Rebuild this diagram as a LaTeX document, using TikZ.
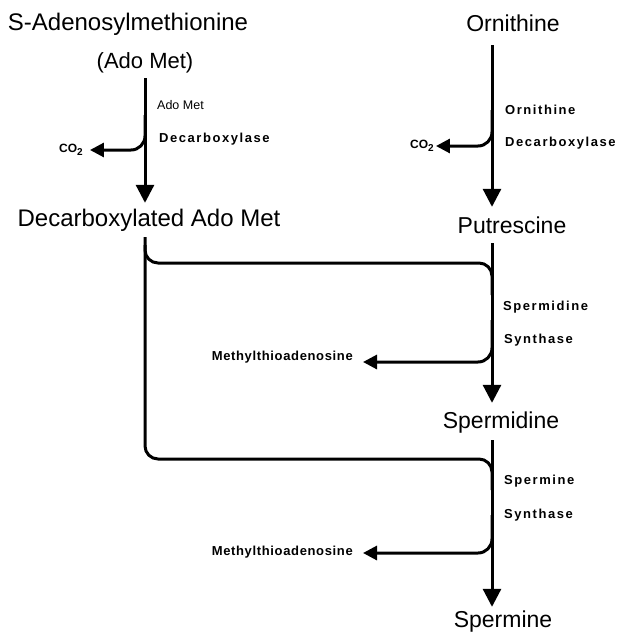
\documentclass[tikz,border=0pt]{standalone}
\usepackage{fontspec}
\setmainfont{Liberation Sans}
\newfontfamily\lblfont[LetterSpace=12]{Liberation Sans}
\newfontfamily\mtafont[LetterSpace=5]{Liberation Sans}
\usetikzlibrary{arrows.meta}
\begin{document}
\begin{tikzpicture}[x=1pt,y=-1pt,
  big/.style={font=\fontsize{23}{23}\selectfont, inner sep=0pt, text height=16pt, text depth=5pt},
  lbl/.style={font=\lblfont\bfseries\fontsize{13}{13}\selectfont, inner sep=0pt, anchor=west},
  prod/.style={font=\mtafont\bfseries\fontsize{13}{13}\selectfont, inner sep=0pt},
  flow/.style={line width=3pt, -{Triangle[length=18pt,width=18pt]}},
  side/.style={line width=3pt, rounded corners=14pt, -{Triangle[length=14pt,width=14pt]}},
  feed/.style={line width=3pt, rounded corners=13pt}]
\useasboundingbox (0,0) rectangle (623,632);
\coordinate (lx) at (145,0);
\coordinate (rx) at (492,0);
% main compounds
\node[big, font=\fontsize{24}{24}\selectfont] (sam) at (128,25) {S-Adenosylmethionine};
\node[big, font=\fontsize{22}{22}\selectfont] (adomet) at (145,63) {(Ado Met)};
\node[big, font=\fontsize{24}{24}\selectfont] (dcsam) at (149,221) {Decarboxylated Ado Met};
\node[big] (orn) at (513,26) {Ornithine};
\node[big] (put) at (512,228) {Putrescine};
\node[big] (spd) at (501,423) {Spermidine};
\node[big] (spm) at (503,622) {Spermine};
% enzymes
\node[lbl, font=\fontsize{12.5}{12.5}\selectfont] (e1a) at (157,105) {Ado Met};
\node[lbl] (e1b) at (159,139) {Decarboxylase};
\node[lbl] (e2a) at (505,110) {Ornithine};
\node[lbl] (e2b) at (505,143) {Decarboxylase};
\node[lbl] (e3a) at (503,307) {Spermidine};
\node[lbl] (e3b) at (504,340) {Synthase};
\node[lbl] (e4a) at (504,481) {Spermine};
\node[lbl] (e4b) at (504,515) {Synthase};
% side products
\node[prod, font=\bfseries\fontsize{12}{12}\selectfont] (co2a) at (71,150) {CO\raisebox{-3pt}{\fontsize{10}{10}\selectfont 2}};
\node[prod, font=\bfseries\fontsize{12}{12}\selectfont] (co2b) at (422,146) {CO\raisebox{-3pt}{\fontsize{10}{10}\selectfont 2}};
\node[prod, anchor=east] (mta1) at (353,357) {Methylthioadenosine};
\node[prod, anchor=east] (mta2) at (353,552) {Methylthioadenosine};
% main arrows
\draw[flow, shorten <=4.5pt, shorten >=7.5pt] (adomet.south) -- (adomet.south |- dcsam.north);
\draw[flow, shorten <=8.5pt, shorten >=10.5pt] (orn.south -| rx) -- (put.north -| rx);
\draw[flow, shorten <=4.5pt, shorten >=9.5pt] (put.south -| rx) -- (spd.north -| rx);
\draw[flow, shorten <=6.5pt, shorten >=4.5pt] (spd.south -| rx) -- (spm.north -| rx);
% side branches
\draw[side, shorten >=7pt] (lx |- 0,115) -- (lx |- co2a) -- (co2a.east);
\draw[side, shorten >=2pt] (rx |- 0,110) -- (rx |- co2b) -- (co2b.east);
\draw[side, shorten >=10pt] (rx |- 0,320) -- (rx |- 0,362) -- (mta1.east |- 0,362);
\draw[side, shorten >=10pt] (rx |- 0,515) -- (rx |- 0,553) -- (mta2.east |- 0,553);
% decarboxylated AdoMet feeds
\draw[feed, shorten <=5.5pt] (dcsam.south -| lx) -- (lx |- 0,459) -- (rx |- 0,459) -- (rx |- 0,490);
\draw[feed] (lx |- 0,245) -- (lx |- 0,263) -- (rx |- 0,263) -- (rx |- 0,295);
\end{tikzpicture}
\end{document}
